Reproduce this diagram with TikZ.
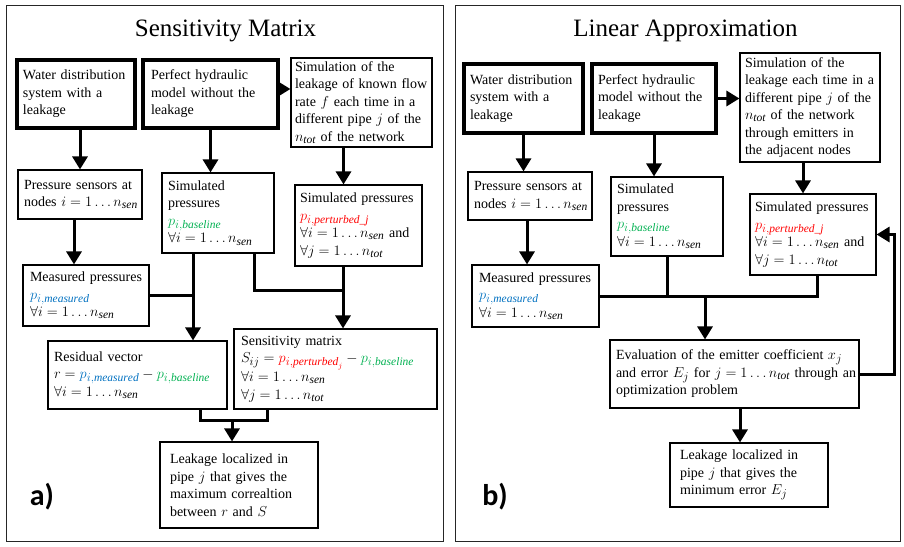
\documentclass[tikz,border=0pt]{standalone}
\usepackage{amsmath}
\usepackage{amssymb}
\usepackage{fontspec}
\setmainfont{Liberation Serif}
\newfontfamily\tagfont{Carlito}
\usetikzlibrary{arrows.meta, calc}
\usepackage{xcolor}
\definecolor{basegreen}{RGB}{0,176,80}
\definecolor{measblue}{RGB}{0,112,192}
\definecolor{pertred}{RGB}{255,0,0}
\DeclareMathSizes{14}{14}{11.5}{8}

\begin{document}
\begin{tikzpicture}[x=1pt, y=-1pt,
    box/.style={draw, line width=1.1pt, align=left, inner ysep=2pt, inner xsep=6pt,
        font=\fontsize{14}{17.5}\selectfont},
    startbox/.style={box, line width=3.5pt},
    flow/.style={line width=3pt},
    arr/.style={flow, -{Triangle[width=15pt,length=13pt]}},
    panel/.style={draw, line width=1pt, black!85},
    heading/.style={font=\fontsize{25}{30}\selectfont},
    tag/.style={font=\tagfont\bfseries\fontsize{30}{32}\selectfont}]

        \useasboundingbox (0,0) rectangle (904,546);

        % 1. Left panel: sensitivity matrix
        \draw[panel] (6,5) rectangle (443,541);
        \node[heading] (ttl1) at (225.5,31) {Sensitivity Matrix};

        \node[startbox, text width=106pt, minimum height=68pt] (w1) at (76,94)
            {Water distribution\\system with a\\leakage};
        \node[startbox, text width=119pt, inner xsep=8pt, minimum height=68pt] (p1) at (210.5,94)
            {Perfect hydraulic\\model without the\\leakage};
        \node[box, text width=133pt, inner xsep=4pt, minimum height=89pt] (s1) at (361.5,102.5)
            {Simulation of the\\leakage of known flow\\rate $f$ each time in a\\different pipe $j$ of the\\$n_{\mathit{tot}}$ of the network};
        \node[box, text width=112pt, inner xsep=6pt, minimum height=49pt] (ps1) at (80,194.5)
            {Pressure sensors at\\\mbox{nodes $i = 1 \ldots n_{\mathit{sen}}$}};
        \node[box, text width=100pt, minimum height=80pt] (sp1) at (218,213)
            {Simulated\\pressures\\$\textcolor{basegreen}{p_{i,\mathit{baseline}}}$\\$\forall i = 1 \ldots n_{\mathit{sen}}$};
        \node[box, text width=117pt, inner xsep=5pt, minimum height=81pt] (spp1) at (358.5,225.5)
            {Simulated pressures\\$\textcolor{pertred}{p_{i,\mathit{perturbed\_j}}}$\\\mbox{$\forall i = 1 \ldots n_{\mathit{sen}}$ and}\\$\forall j = 1 \ldots n_{\mathit{tot}}$};
        \node[box, text width=112pt, inner xsep=7pt, minimum height=61pt] (mp1) at (86,295.5)
            {Measured pressures\\$\textcolor{measblue}{p_{i,\mathit{measured}}}$\\$\forall i = 1 \ldots n_{\mathit{sen}}$};
        \node[box, text width=167pt, inner xsep=6pt, minimum height=68pt] (r1) at (137.5,375)
            {Residual vector\\\mbox{$r = \textcolor{measblue}{p_{i,\mathit{measured}}} - \textcolor{basegreen}{p_{i,\mathit{baseline}}}$}\\$\forall i = 1 \ldots n_{\mathit{sen}}$};
        \node[box, text width=189pt, inner xsep=7pt, minimum height=80pt] (sm1) at (335.5,369)
            {Sensitivity matrix\\\mbox{$S_{ij} = \textcolor{pertred}{p_{i,\mathit{perturbed}_j}} - \textcolor{basegreen}{p_{i,\mathit{baseline}}}$}\\$\forall i = 1 \ldots n_{\mathit{sen}}$\\$\forall j = 1 \ldots n_{\mathit{tot}}$};
        \node[box, text width=138pt, inner xsep=10pt, minimum height=86pt] (l1) at (239,485)
            {Leakage localized in\\pipe $j$ that gives the\\maximum correaltion\\between $r$ and $S$};
        \node[tag] (taga) at (42,497) {a)};

        % 2. Left connectors
        \draw[arr] (w1.south -| ps1.north) -- (ps1.north);
        \draw[arr] (p1.south) -- (p1.south |- sp1.north);
        \draw[arr] ([yshift=5pt]p1.east) -- ([yshift=5pt]p1.east -| s1.west);
        \draw[arr] ([xshift=-18pt]s1.south) -- ([xshift=-18pt]s1.south |- spp1.north);
        \draw[arr] ([xshift=-6pt]ps1.south) -- ([xshift=-6pt]ps1.south |- mp1.north);

        \coordinate (j1) at ([xshift=-25pt]sp1.south |- mp1.east);
        \draw[flow] (mp1.east) -- (j1);
        \draw[arr] ([xshift=-25pt]sp1.south) -- ([xshift=-25pt]sp1.south |- r1.north);

        \coordinate (j2) at ([xshift=-15.5pt]spp1.south |- 0,290);
        \draw[flow] ([xshift=36pt]sp1.south) |- (j2);
        \draw[arr] ([xshift=-15.5pt]spp1.south) -- ([xshift=-15.5pt]spp1.south |- sm1.north);

        \coordinate (j3) at ([xshift=-7pt]l1.north |- 0,420);
        \draw[flow] ([xshift=62.5pt]r1.south) |- (j3) -| ([xshift=-68.5pt]sm1.south);
        \draw[arr] (j3) -- (j3 |- l1.north);

        % 3. Right panel: linear approximation
        \draw[panel] (455,5) rectangle (900,541);
        \node[heading] (ttl2) at (685.5,31) {Linear Approximation};

        \node[startbox, text width=107pt, minimum height=69pt] (w2) at (523.5,98.5)
            {Water distribution\\system with a\\leakage};
        \node[startbox, text width=112pt, minimum height=69pt] (p2) at (654,98.5)
            {Perfect hydraulic\\model without the\\leakage};
        \node[box, text width=130pt, inner xsep=5pt, minimum height=109pt] (s2) at (810,107.5)
            {Simulation of the\\leakage each time in a\\different pipe $j$ of the\\$n_{\mathit{tot}}$ of the network\\through emitters in\\the adjacent nodes};
        \node[box, text width=112pt, minimum height=48pt] (ps2) at (530,196)
            {Pressure sensors at\\\mbox{nodes $i = 1 \ldots n_{\mathit{sen}}$}};
        \node[box, text width=100pt, minimum height=79pt] (sp2) at (667,216.5)
            {Simulated\\pressures\\$\textcolor{basegreen}{p_{i,\mathit{baseline}}}$\\$\forall i = 1 \ldots n_{\mathit{sen}}$};
        \node[box, text width=116pt, inner xsep=5pt, minimum height=81pt] (spp2) at (813,234.5)
            {Simulated pressures\\$\textcolor{pertred}{p_{i,\mathit{perturbed\_j}}}$\\\mbox{$\forall i = 1 \ldots n_{\mathit{sen}}$ and}\\$\forall j = 1 \ldots n_{\mathit{tot}}$};
        \node[box, text width=113pt, inner xsep=7pt, minimum height=62pt] (mp2) at (535.5,296)
            {Measured pressures\\$\textcolor{measblue}{p_{i,\mathit{measured}}}$\\$\forall i = 1 \ldots n_{\mathit{sen}}$};
        \node[box, text width=237pt, minimum height=68pt] (ev2) at (734.5,374)
            {Evaluation of the emitter coefficient $x_j$\\\mbox{and error $E_j$ for $j = 1 \ldots n_{\mathit{tot}}$ through an}\\optimization problem};
        \node[box, text width=138pt, inner xsep=10pt, minimum height=64pt] (l2) at (749,475)
            {Leakage localized in\\pipe $j$ that gives the\\minimum error $E_j$};
        \node[tag] (tagb) at (495,497) {b)};

        % 4. Right connectors
        \draw[arr] (w2.south) -- (w2.south |- ps2.north);
        \draw[arr] (p2.south) -- (p2.south |- sp2.north);
        \draw[arr] (p2.east) -- (p2.east -| s2.west);
        \draw[arr] ([xshift=-7pt]s2.south) -- ([xshift=-7pt]s2.south |- spp2.north);
        \draw[arr] ([xshift=-3pt]ps2.south) -- ([xshift=-3pt]ps2.south |- mp2.north);

        \draw[flow] (mp2.east) -| ([xshift=4pt]spp2.south);
        \draw[flow] (sp2.south) -- (sp2.south |- mp2.east);
        \coordinate (j4) at ([xshift=-29.5pt]ev2.north |- mp2.east);
        \draw[arr] (j4) -- (j4 |- ev2.north);

        \draw[arr] (ev2.east) -- ++(35,0) |- (spp2.east);
        \draw[arr] ([xshift=5.5pt]ev2.south) -- ([xshift=5.5pt]ev2.south |- l2.north);

\end{tikzpicture}
\end{document}
